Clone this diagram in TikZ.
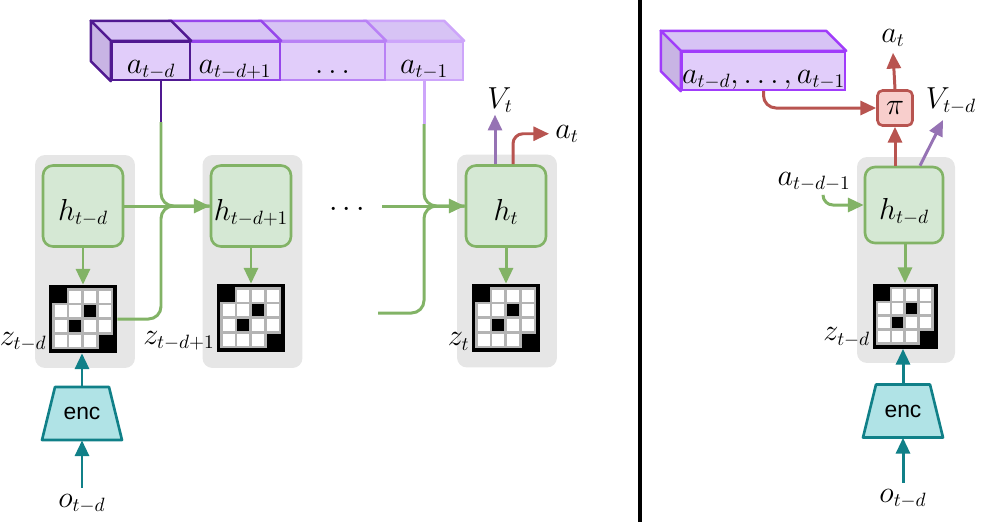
\documentclass[tikz,border=0pt]{standalone}
\usepackage{fontspec}
\setsansfont{Liberation Sans}
\usepackage{xcolor}
\definecolor{greenline}{RGB}{130,179,102}
\definecolor{greenfill}{RGB}{213,232,212}
\definecolor{tealline}{RGB}{16,128,136}
\definecolor{tealfill}{RGB}{176,227,230}
\definecolor{redline}{RGB}{184,84,80}
\definecolor{redfill}{RGB}{248,206,204}
\definecolor{vline}{RGB}{150,115,180}
\definecolor{bggray}{RGB}{230,230,230}
\definecolor{gridgray}{RGB}{180,180,180}
\definecolor{cube1}{RGB}{80,25,145}
\definecolor{cube2}{RGB}{150,70,235}
\definecolor{cube3}{RGB}{185,130,245}
\definecolor{cube4}{RGB}{205,165,250}
\definecolor{cubeR}{RGB}{160,60,250}
\definecolor{cubefill}{RGB}{225,205,250}
\definecolor{cubetop}{RGB}{215,195,245}
\definecolor{cubeside}{RGB}{200,180,228}
\usetikzlibrary{arrows.meta,calc}

\begin{document}
\begin{tikzpicture}[x=0.02cm, y=-0.02cm, font=\fontsize{16}{19}\selectfont,
	arr/.style={-{Triangle[length=9pt,width=8pt]}},
	greenl/.style={draw=greenline, line width=1.7pt},
	teall/.style={draw=tealline, line width=1.7pt},
	redl/.style={draw=redline, line width=1.7pt},
	vl/.style={draw=vline, line width=1.7pt},
	bgbox/.style={fill=bggray, rounded corners=0.2cm, minimum width=2cm, minimum height=4.26cm},
	hbox/.style={draw=greenline, fill=greenfill, line width=1.5pt, rounded corners=0.2cm, minimum width=1.6cm, minimum height=1.62cm, inner sep=0pt, text height=0.6cm, text depth=0.04cm},
	zbox/.style={fill=black, inner sep=0pt},
	cubeface/.style={line width=1.4pt, fill=cubefill, inner sep=0pt, minimum height=0.76cm, text height=0.52cm, text depth=0.04cm},
	encnode/.style={font=\fontsize{13}{15}\selectfont\sffamily, minimum height=1.06cm, inner sep=0pt}]
	\useasboundingbox (0,0) rectangle (1000,522);
	% cubes of past actions
	\node[cubeface, draw=cube4, minimum width=1.56cm] (cD) at (424,61) {$a_{t-1}$};
	\node[cubeface, draw=cube3, minimum width=2.1cm] (cC) at (332.5,61) {$\dots$};
	\node[cubeface, draw=cube2, minimum width=1.8cm] (cB) at (235,61) {$a_{t-d+1}$};
	\node[cubeface, draw=cube1, minimum width=1.56cm] (cA) at (151,61) {$a_{t-d}$};
	\node[cubeface, draw=cubeR, minimum width=3.26cm] (cR) at (763.5,71) {$a_{t-d},\dots,a_{t-1}$};
	\foreach \n/\col in {cD/cube4, cC/cube3, cB/cube2, cA/cube1, cR/cubeR}
		\filldraw[draw=\col, fill=cubetop, line width=1.4pt, line join=round] (\n.north west) -- ++(-20,-20) -- ($(\n.north east)+(-20,-20)$) -- (\n.north east) -- cycle;
	\foreach \n/\col in {cA/cube1, cR/cubeR}
		\filldraw[draw=\col, fill=cubeside, line width=1.4pt, line join=round] (\n.north west) -- ++(-20,-20) -- ($(\n.south west)+(-20,-20)$) -- (\n.south west) -- cycle;
	% gray boxes and states
	\node[bgbox] (gA) at (85,261.5) {};
	\node[bgbox] (gB) at (252.5,261.5) {};
	\node[bgbox] (gC) at (507,261) {};
	\node[bgbox, minimum width=1.96cm, minimum height=4.12cm] (gR) at (906,260) {};
	\node[hbox] (hA) at (83,206) {$h_{t-d}$};
	\node[hbox] (hB) at (251,206) {$h_{t-d+1}$};
	\node[hbox] (hC) at (506,206) {$h_t$};
	\node[hbox, minimum width=1.56cm, minimum height=1.52cm] (hR) at (904,205) {$h_{t-d}$};
	% latent grids
	\foreach \g/\gx/\gy/\gs in {zA/83/319/68, zB/251/318/68, zC/506/318/68, zR/905/316/65}{
		\node[zbox, minimum size=\gs*0.02cm] (\g) at (\gx,\gy) {};
		\pgfmathsetmacro{\pitch}{(\gs-9.5)/4}
		\pgfmathsetmacro{\cell}{\pitch-2.5}
		\begin{scope}[shift={(\g.north west)}]
			\fill[gridgray] (3.5,3.5) rectangle (\gs-3.5,\gs-3.5);
			\foreach \row in {0,...,3} \foreach \col in {0,...,3}
				\fill[white] (6+\col*\pitch,6+\row*\pitch) rectangle ++(\cell,\cell);
			\foreach \row/\col in {1/2, 2/1}
				\fill[black] (6+\col*\pitch,6+\row*\pitch) rectangle ++(\cell,\cell);
			\fill[black] (3.5,3.5) rectangle ++(\cell+2.5,\cell+2.5);
			\fill[black] (6+3*\pitch,6+3*\pitch) rectangle (\gs-3.5,\gs-3.5);
		\end{scope}
	}
	\node[anchor=south east, inner sep=1pt] (zlA) at (zA.south west) {$z_{t-d}$};
	\node[anchor=south east, inner sep=1pt] (zlB) at (zB.south west) {$z_{t-d+1}$};
	\node[anchor=south east, inner sep=1pt] (zlC) at (zC.south west) {$z_t$};
	\node[anchor=south east, inner sep=1pt] (zlR) at (zR.south west) {$z_{t-d}$};
	% encoders
	\foreach \e/\ex/\ey in {eA/82/413.5, eR/903/411}{
		\filldraw[draw=tealline, fill=tealfill, line width=1.5pt, line join=round] (\ex-27,\ey-26.5) -- (\ex+27,\ey-26.5) -- (\ex+40,\ey+26.5) -- (\ex-40,\ey+26.5) -- cycle;
		\node[encnode] (\e) at (\ex,\ey) {enc};
	}
	\node[anchor=base] (oA) at (82,507) {$o_{t-d}$};
	\node[anchor=base] (oR) at (903,502) {$o_{t-d}$};
	\node (dotsC) at (347,210) {$\cdots$};
	\node[anchor=base, inner sep=1pt] (vC) at (500,108) {$V_t$};
	\node[anchor=base] (atC) at (567,138) {$a_t$};
	\node[draw=redline, fill=redfill, line width=1.5pt, rounded corners=0.1cm, minimum size=0.7cm, inner sep=0pt] (piR) at (895,108) {$\pi$};
	\node[anchor=base] (atR) at (893,42) {$a_t$};
	\node[anchor=base] (vR) at (951,108) {$V_{t-d}$};
	\node[anchor=base, inner sep=2pt] (aprev) at (814,185) {$a_{t-d-1}$};
	% left recurrence
	\coordinate (mA) at (161,122);
	\coordinate (jA) at (161,206);
	\draw[line width=1.7pt, cube1] (cA.south -| mA) -- (mA);
	\draw[greenl, rounded corners=0.25cm] (mA) |- (hB.west);
	\draw[greenl, rounded corners=0.25cm] (zA.east) -| (jA) -- (hB.west);
	\draw[greenl, arr] (hA.east) -- (hB.west);
	\coordinate (mC) at ($(cD.south)+(0,43)$);
	\coordinate (inC) at (382,206);
	\coordinate (lowC) at (378,313);
	\draw[line width=1.7pt, cube4] (cD.south) -- (mC);
	\draw[greenl, rounded corners=0.25cm] (mC) |- (hC.west);
	\draw[greenl, rounded corners=0.25cm] (lowC) -| (mC |- hC.west) -- (hC.west);
	\draw[greenl, arr] (inC) -- (hC.west);
	\foreach \h/\z in {hA/zA, hB/zB, hC/zC, hR/zR}
		\draw[greenl, arr] (\z.north |- \h.south) -- (\z.north);
	\foreach \e/\z/\o in {eA/zA/oA, eR/zR/oR}{
		\draw[teall, arr] (\e.north) -- (\e.north |- \z.south);
		\draw[teall, arr] (\o.north) -- (\e.south);
	}
	% outputs
	\coordinate (vCs) at ($(hC.north)+(-11,0)$);
	\coordinate (aCs) at ($(hC.north)+(7,0)$);
	\draw[vl, arr] (vCs) -- (vCs |- vC.south);
	\draw[redl, arr, rounded corners=0.2cm] (aCs) |- (atC.west);
	\draw[redl, arr, rounded corners=0.25cm] (cR.south) |- (piR.west);
	\draw[redl, arr] (piR.south |- hR.north) -- (piR.south);
	\draw[redl, arr] (piR.north) -- (atR.south);
	\coordinate (vRs) at ($(hR.north)+(16,0)$);
	\coordinate (vRe) at (943,120);
	\draw[vl, arr] (vRs) -- (vRe);
	\draw[greenl, arr, rounded corners=0.2cm] ($(aprev.south)+(9,0)$) |- (hR.west);
	\draw[line width=2.3pt] (640,0) -- (640,522);
\end{tikzpicture}
\end{document}
